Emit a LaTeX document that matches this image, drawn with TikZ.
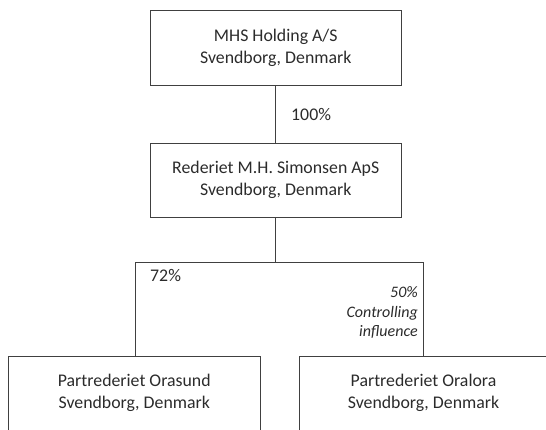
\documentclass[tikz,border=0pt]{standalone}
\usepackage{fontspec}
\setmainfont{Carlito}
\definecolor{linegray}{HTML}{404040}
\definecolor{textgray}{HTML}{2B2B2B}
\begin{document}
\begin{tikzpicture}[x=1pt,y=-1pt,
  box/.style={draw=linegray, line width=1pt, inner sep=0pt, align=center,
    font=\fontsize{17.8}{22}\selectfont, text=textgray},
  pct/.style={inner sep=0pt, text=textgray, font=\fontsize{17.8}{22}\selectfont},
  note/.style={inner sep=0pt, text=textgray, align=right, font=\fontsize{16}{19.5}\selectfont\itshape},
  link/.style={draw=linegray, line width=1pt}]
\useasboundingbox (0,0) rectangle (546,429);
\clip (0,0) rectangle (546,429);
\node[box, minimum width=250.5pt, minimum height=75pt] (top) at (275.75,47.5) {MHS Holding A/S\\Svendborg, Denmark};
\node[box, minimum width=250.5pt, minimum height=74pt] (mid) at (275.75,180) {Rederiet M.H. Simonsen ApS\\Svendborg, Denmark};
\node[box, minimum width=251.5pt, minimum height=74pt] (left) at (134.25,393) {Partrederiet Orasund\\Svendborg, Denmark};
\node[box, minimum width=249pt, minimum height=74pt] (right) at (423.5,393) {Partrederiet Oralora\\Svendborg, Denmark};
\coordinate (jl) at (135,262);
\coordinate (jr) at (423,262);
\draw[link] (top.south) -- (mid.north);
\draw[link] (mid.south) -- (mid.south |- jl);
\draw[link] (jl) -- (jr);
\draw[link] (jl) -- (jl |- left.north);
\draw[link] (jr) -- (jr |- right.north);
\node[pct, anchor=west] (p100) at (291,114) {100\%};
\node[pct, anchor=west] (p72) at (150,275) {72\%};
\node[note, anchor=east] (p50) at (418,312.5) {50\%\\Controlling\\influence};
\end{tikzpicture}
\end{document}
